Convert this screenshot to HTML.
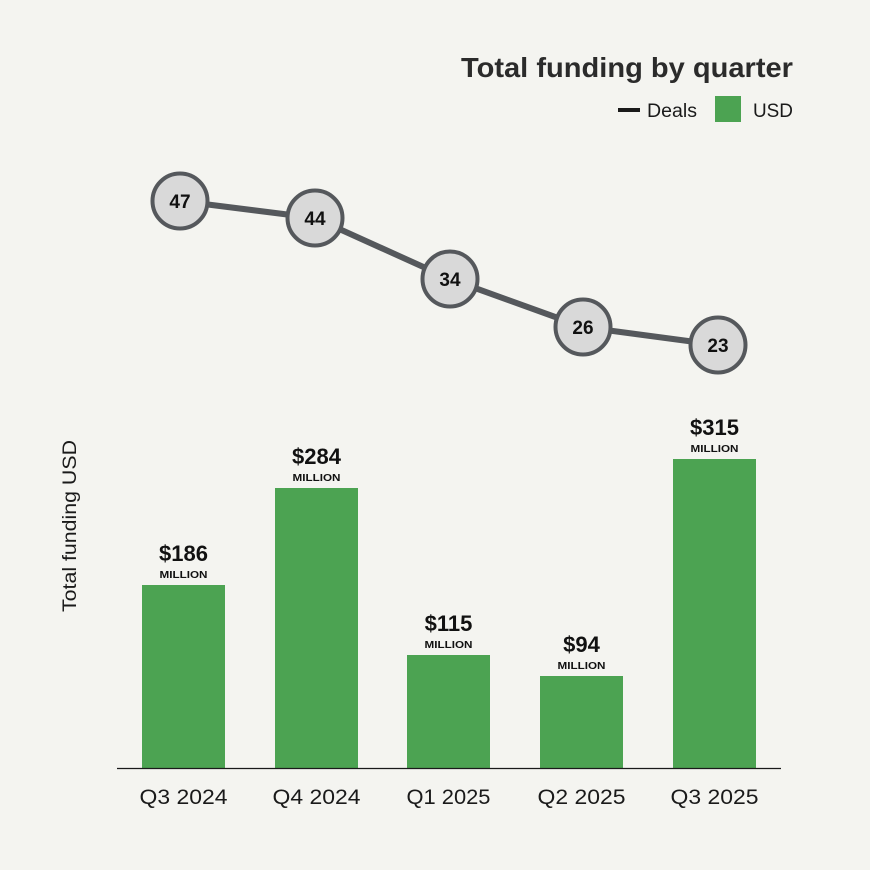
<!DOCTYPE html>
<html><head><meta charset="utf-8"><style>
html,body{margin:0;padding:0;background:#f4f4f0;}
svg{display:block;}
text{font-family:"Liberation Sans",Arial,sans-serif;}
</style></head><body>
<svg width="870" height="870" viewBox="0 0 870 870" xmlns="http://www.w3.org/2000/svg">
<rect width="870" height="870" fill="#f4f4f0"/>
<text x="793" y="77" text-anchor="end" font-size="28" font-weight="bold" fill="#2b2b2b" textLength="332" lengthAdjust="spacingAndGlyphs">Total funding by quarter</text>
<rect x="618" y="108" width="22" height="4" fill="#1a1a1a"/>
<text x="647" y="117" font-size="19" fill="#1a1a1a" textLength="50" lengthAdjust="spacingAndGlyphs">Deals</text>
<rect x="715" y="96" width="26" height="26" fill="#4ca352"/>
<text x="753" y="117" font-size="19" fill="#1a1a1a" textLength="40" lengthAdjust="spacingAndGlyphs">USD</text>

<text transform="translate(76,526) rotate(-90)" text-anchor="middle" font-size="19" fill="#1a1a1a" textLength="172" lengthAdjust="spacingAndGlyphs">Total funding USD</text>

<g fill="#4ca352">
<rect x="142" y="585" width="83" height="183"/>
<rect x="275" y="488" width="83" height="280"/>
<rect x="407" y="655" width="83" height="113"/>
<rect x="540" y="676" width="83" height="92"/>
<rect x="673" y="459" width="83" height="309"/>
</g>
<line x1="117" y1="768.5" x2="781" y2="768.5" stroke="#1a1a1a" stroke-width="1.2"/>

<g font-weight="bold" fill="#111" text-anchor="middle">
<text x="183.5" y="561" font-size="22">$186</text>
<text x="183.5" y="578" font-size="10.5" textLength="48" lengthAdjust="spacingAndGlyphs">MILLION</text>
<text x="316.5" y="464" font-size="22">$284</text>
<text x="316.5" y="481" font-size="10.5" textLength="48" lengthAdjust="spacingAndGlyphs">MILLION</text>
<text x="448.5" y="631" font-size="22">$115</text>
<text x="448.5" y="648" font-size="10.5" textLength="48" lengthAdjust="spacingAndGlyphs">MILLION</text>
<text x="581.5" y="652" font-size="22">$94</text>
<text x="581.5" y="669" font-size="10.5" textLength="48" lengthAdjust="spacingAndGlyphs">MILLION</text>
<text x="714.5" y="435" font-size="22">$315</text>
<text x="714.5" y="452" font-size="10.5" textLength="48" lengthAdjust="spacingAndGlyphs">MILLION</text>
</g>

<g font-size="21" fill="#1a1a1a" text-anchor="middle">
<text x="183.5" y="804" textLength="88" lengthAdjust="spacingAndGlyphs">Q3 2024</text>
<text x="316.5" y="804" textLength="88" lengthAdjust="spacingAndGlyphs">Q4 2024</text>
<text x="448.5" y="804" textLength="84" lengthAdjust="spacingAndGlyphs">Q1 2025</text>
<text x="581.5" y="804" textLength="88" lengthAdjust="spacingAndGlyphs">Q2 2025</text>
<text x="714.5" y="804" textLength="88" lengthAdjust="spacingAndGlyphs">Q3 2025</text>
</g>

<polyline points="180,201 315,218 450,279 583,327 718,345" fill="none" stroke="#55585c" stroke-width="6" stroke-linejoin="round"/>
<g fill="#d9d9d9" stroke="#55585c" stroke-width="4">
<circle cx="180" cy="201" r="27.5"/>
<circle cx="315" cy="218" r="27.5"/>
<circle cx="450" cy="279" r="27.5"/>
<circle cx="583" cy="327" r="27.5"/>
<circle cx="718" cy="345" r="27.5"/>
</g>
<g font-size="19" font-weight="bold" fill="#111" text-anchor="middle">
<text x="180" y="208">47</text>
<text x="315" y="225">44</text>
<text x="450" y="286">34</text>
<text x="583" y="334">26</text>
<text x="718" y="352">23</text>
</g>
</svg>
</body></html>
